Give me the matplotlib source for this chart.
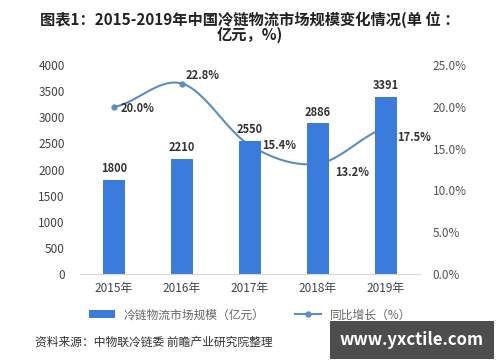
import numpy as np
from matplotlib import pyplot as plt

plt.rcParams['font.family'] = ['Noto Sans CJK SC', 'DejaVu Sans']

years = ['2015年', '2016年', '2017年', '2018年', '2019年']
scale = [1800, 2210, 2550, 2886, 3391]
growth = [20.0, 22.8, 15.4, 13.2, 17.5]


def smooth(xs, ys, n=30):
    # Catmull-Rom style curve through the points, like Excel's smoothed line
    xs = np.asarray(xs, float)
    ys = np.asarray(ys, float)
    px = np.concatenate([[2 * xs[0] - xs[1]], xs, [2 * xs[-1] - xs[-2]]])
    py = np.concatenate([[ys[0]], ys, [ys[-1]]])
    out_x, out_y = [], []
    t = np.linspace(0, 1, n)
    for i in range(1, len(px) - 2):
        for p, out in ((px, out_x), (py, out_y)):
            p0, p1, p2, p3 = p[i - 1], p[i], p[i + 1], p[i + 2]
            seg = 0.5 * ((2 * p1) + (-p0 + p2) * t + (2 * p0 - 5 * p1 + 4 * p2 - p3) * t ** 2
                         + (-p0 + 3 * p1 - 3 * p2 + p3) * t ** 3)
            out.extend(seg)
    return np.array(out_x), np.array(out_y)


fig = plt.figure(figsize=(5, 3.62), dpi=100)
ax = fig.add_axes([0.16, 0.243, 0.68, 0.577])
ax2 = ax.twinx()
# bars sit on top of the growth line, as in the original
ax.set_zorder(ax2.get_zorder() + 1)
ax.patch.set_visible(False)

x = np.arange(len(years))
bars = ax.bar(x, scale, width=0.33, color='#3b7bdc', label='冷链物流市场规模（亿元）')
ax.set_ylim(0, 4000)
ax.set_yticks(range(0, 4001, 500))
ax.set_xlim(-0.5, len(years) - 0.5)
ax.set_xticks(x)
ax.set_xticklabels(years, fontsize=8.5, color='#444444')
ax.tick_params(axis='y', labelsize=8.5, labelcolor='#444444', length=0, pad=11)
ax.tick_params(axis='x', length=0, pad=6)
for s in ['top', 'right', 'left']:
    ax.spines[s].set_visible(False)
ax.spines['bottom'].set_color('#d9d9d9')
for xi, v in zip(x, scale):
    ax.text(xi, v + 90, str(v), ha='center', va='bottom', fontsize=8,
            fontweight='bold', color='#333333')

sx, sy = smooth(x, growth)
ax2.plot(sx, sy, color='#5b8cc4', linewidth=1.5)
ax2.plot(x, growth, 'o', color='#5b8cc4', markersize=3.5)
line_handle, = ax2.plot([], [], '-o', color='#5b8cc4', markersize=3.5, linewidth=1.5,
                        label='同比增长（%）')
ax2.set_ylim(0, 25)
ax2.set_yticks(np.arange(0, 25.1, 5))
ax2.set_yticklabels([f'{v:.1f}%' for v in np.arange(0, 25.1, 5)])
ax2.tick_params(axis='y', labelsize=8.5, labelcolor='#555555', length=0, pad=9)
for s in ['top', 'right', 'left', 'bottom']:
    ax2.spines[s].set_visible(False)

offsets = [(0.1, -0.2, 'left', 'center'), (0.06, 0.2, 'left', 'bottom'),
           (0.18, 0.0, 'left', 'center'), (0.25, -1.0, 'left', 'center'),
           (0.16, -1.1, 'left', 'center')]
for xi, v, (dx, dy, ha, va) in zip(x, growth, offsets):
    ax2.text(xi + dx, v + dy, f'{v:.1f}%', ha=ha, va=va, fontsize=8,
             fontweight='bold', color='#333333', zorder=5)

fig.text(0.5, 0.97, '图表1：2015-2019年中国冷链物流市场规模变化情况(单 位 ：\n亿元，%)',
         ha='center', va='top', fontsize=11, fontweight='bold', color='#222222',
         linespacing=0.95)
fig.legend(handles=[bars, line_handle], loc='center', bbox_to_anchor=(0.5, 0.13),
           ncol=2, frameon=False, fontsize=8.5, labelcolor='#666666',
           handlelength=2.2, columnspacing=2.5)
fig.text(0.07, 0.055, '资料来源：中物联冷链委 前瞻产业研究院整理', ha='left', va='center',
         fontsize=8.5, color='#333333')
fig.text(0.68, 0.06, 'www.yxctile.com', ha='left', va='center', fontsize=12,
         fontweight='bold', color='white',
         bbox=dict(boxstyle='square,pad=0.6', facecolor='#4d4d4d', edgecolor='none'))

fig.savefig('out.png', dpi=100)
